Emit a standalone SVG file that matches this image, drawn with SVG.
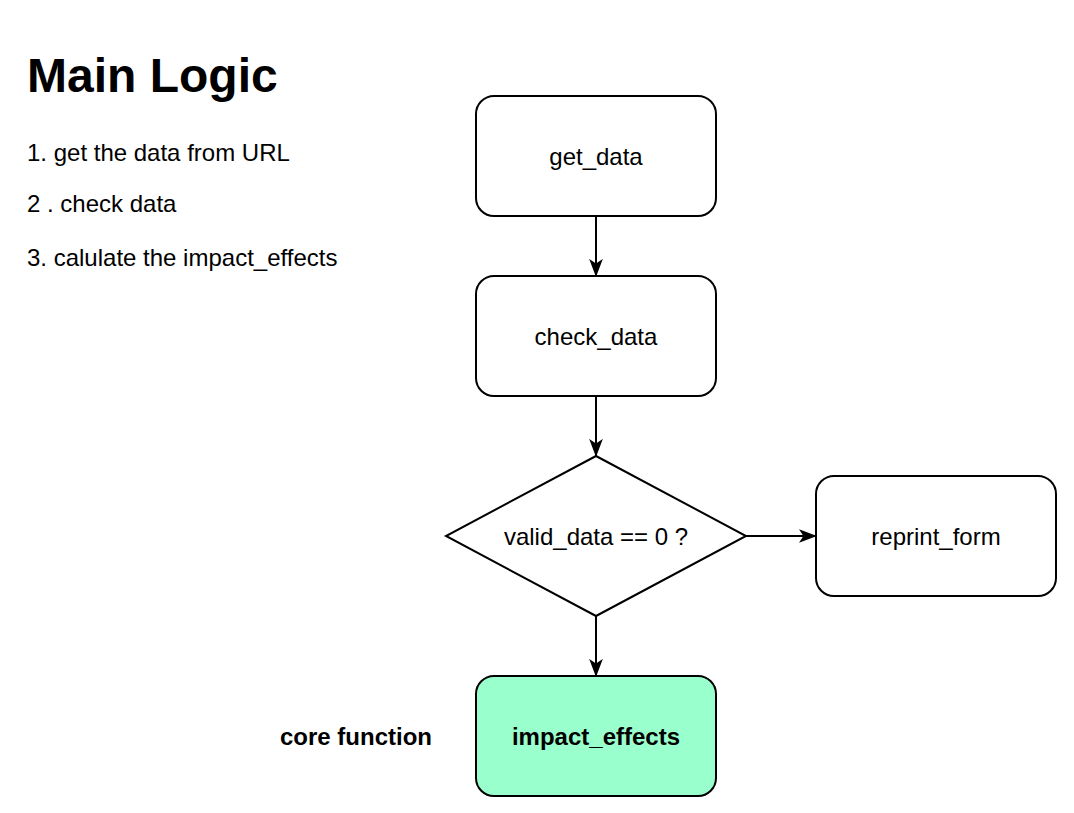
<svg xmlns="http://www.w3.org/2000/svg" width="1074" height="813" viewBox="0 0 1074 813">
<style>
.box{fill:#ffffff;stroke:#000;stroke-width:2}
.lbl{font-family:"Liberation Sans",Arial,sans-serif;font-size:24px;fill:#000;text-anchor:middle;dominant-baseline:central}
.txt{font-family:"Liberation Sans",Arial,sans-serif;font-size:24px;fill:#000}
.edge{stroke:#000;stroke-width:2;fill:none;marker-end:url(#arr)}
</style>
<defs>
<marker id="arr" viewBox="0 0 10 10" refX="9.5" refY="5" markerWidth="18" markerHeight="18" markerUnits="userSpaceOnUse" orient="auto">
<path d="M0,1.2 L10,5 L0,8.8 L2.5,5 Z" fill="#000"/>
</marker>
</defs>
<rect width="1074" height="813" fill="#ffffff"/>
<g id="title">
<text class="txt" x="27" y="92" style="font-size:48px;font-weight:bold">Main Logic</text>
<text class="txt" x="27" y="161">1. get the data from URL</text>
<text class="txt" x="27" y="212">2 . check data</text>
<text class="txt" x="27" y="266">3. calulate the impact_effects</text>
</g>
<g id="connectors">
<path class="edge" d="M596,216 L596,276"/>
<path class="edge" d="M596,396 L596,456"/>
<path class="edge" d="M746,536 L816,536"/>
<path class="edge" d="M596,616 L596,676"/>
</g>
<g id="get_data">
<rect class="box" x="476" y="96" width="240" height="120" rx="18"/>
<text class="lbl" x="596" y="156">get_data</text>
</g>
<g id="check_data">
<rect class="box" x="476" y="276" width="240" height="120" rx="18"/>
<text class="lbl" x="596" y="336">check_data</text>
</g>
<g id="valid_check">
<path class="box" d="M596,456 L746,536 L596,616 L446,536 Z"/>
<text class="lbl" x="596" y="536">valid_data == 0 ?</text>
</g>
<g id="reprint_form">
<rect class="box" x="816" y="476" width="240" height="120" rx="18"/>
<text class="lbl" x="936" y="536">reprint_form</text>
</g>
<g id="impact_effects">
<rect class="box" x="476" y="676" width="240" height="120" rx="18" style="fill:#99FFCC"/>
<text class="lbl" x="596" y="736" style="font-weight:bold">impact_effects</text>
</g>
<g id="core_function">
<text class="lbl" x="356" y="736" style="font-weight:bold">core function</text>
</g>
</svg>
